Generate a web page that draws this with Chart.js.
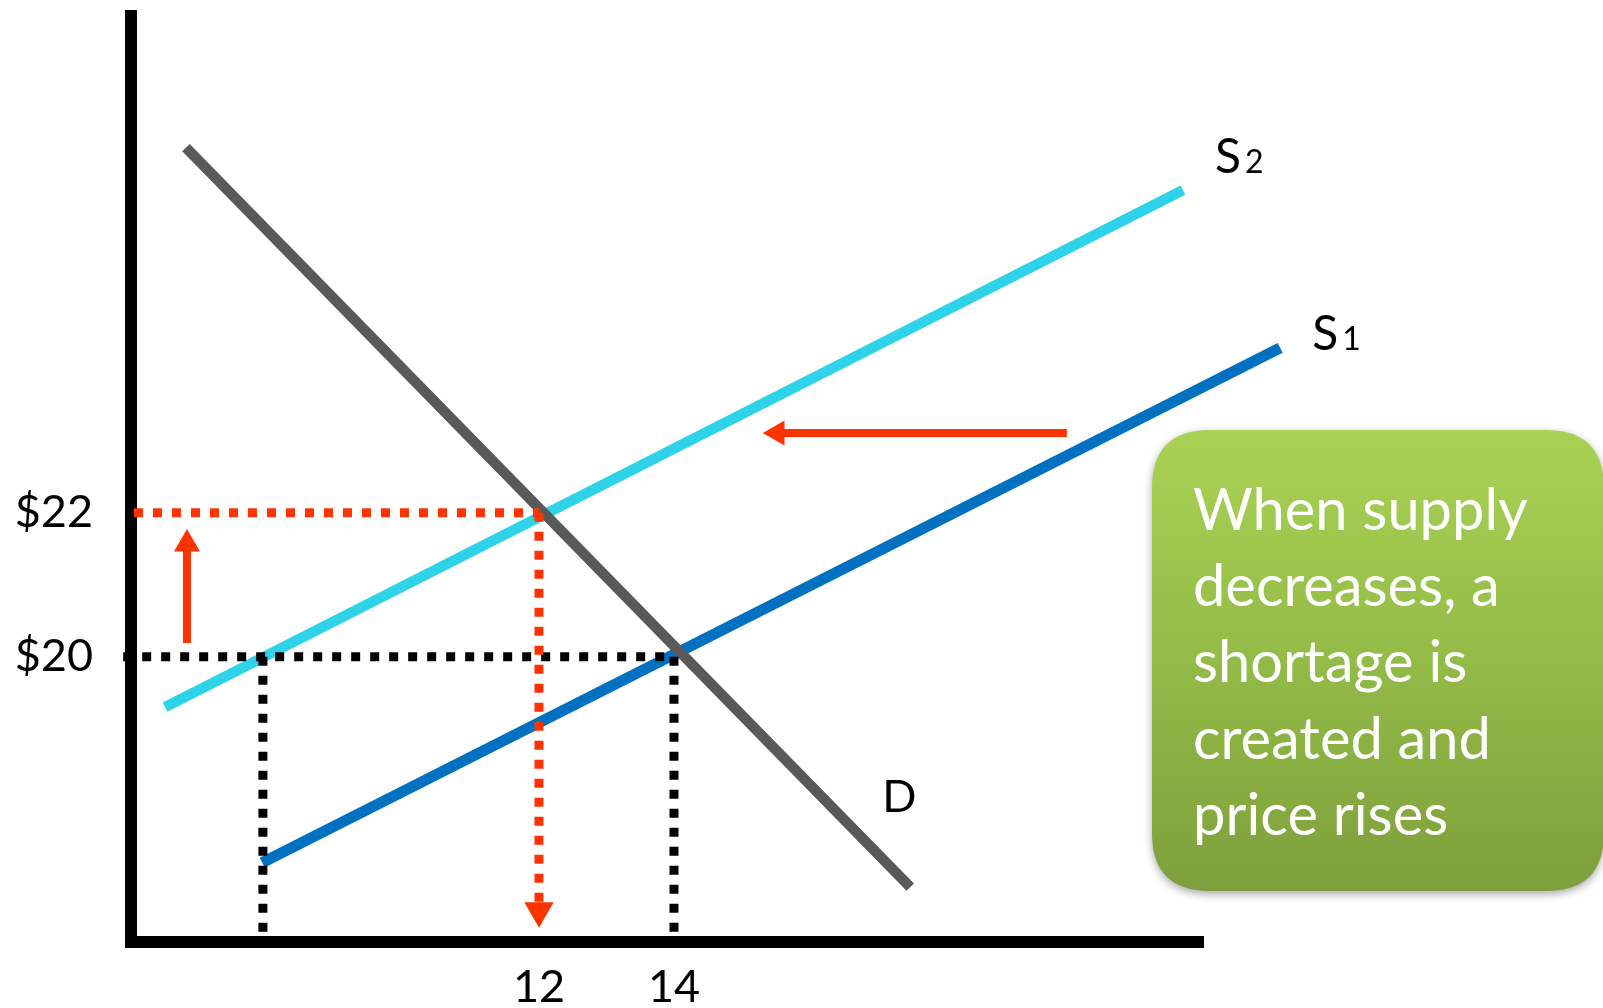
<!DOCTYPE html>
<html>
<head>
<meta charset="utf-8">
<title>Supply decrease</title>
<script src="https://cdn.jsdelivr.net/npm/chart.js@4/dist/chart.umd.min.js"></script>
<style>
  html, body { margin: 0; padding: 0; background: #fff; }
  canvas { display: block; }
</style>
</head>
<body>
<canvas id="chart" width="1603" height="1008"></canvas>
<script>
// ============================================
// DATA  (x = quantity, y = price)
// ============================================
const priceTicks = [20, 22];
const priceLabels = ['$20', '$22'];
const qtyTicks = [12, 14];
const qtyLabels = ['12', '14'];

const demand = [[6.77, 27.07], [17.5, 16.8]];
const supply2 = [[6.46, 19.3], [21.54, 26.48]];
const supply1 = [[7.9, 17.14], [22.98, 24.29]];

// dotted guides
const oldPriceGuide = [[5.84, 20], [14, 20]];
const newPriceGuide = [[6.0, 22], [12, 22]];
const lowQtyGuide = [[7.91, 20], [7.91, 16.04]];
const oldQtyGuide = [[14, 20], [14, 16.04]];
const newQtyGuide = [[12, 22], [12, 16.47]];

// solid arrows (last point = arrow head)
const priceArrow = [[6.785, 20.19], [6.785, 21.565]];
const shiftArrow = [[19.82, 23.107], [15.53, 23.107]];

const boxLines = ['When supply', 'decreases, a', 'shortage is', 'created and', 'price rises'];

const RED = '#FF3300';
const FONT = 'Lato, "Open Sans", sans-serif';

// ============================================
// HELPERS
// ============================================
const pts = arr => arr.map(p => ({ x: p[0], y: p[1] }));

function lineSet(data, color, width, extra) {
    return Object.assign({
        data: pts(data),
        showLine: true,
        borderColor: color,
        borderWidth: width,
        borderCapStyle: 'butt',
        pointRadius: 0,
        pointHoverRadius: 0,
        clip: false
    }, extra || {});
}

function arrowSet(data, color, width, headRadius, rotation, extra) {
    return lineSet(data, color, width, Object.assign({
        pointRadius: [0, headRadius],
        pointHoverRadius: [0, headRadius],
        pointStyle: 'triangle',
        pointRotation: rotation,
        pointBackgroundColor: color,
        pointBorderWidth: 0
    }, extra || {}));
}

function curveLabel(ctx, main, sub, px, py) {
    ctx.fillStyle = '#000';
    ctx.textBaseline = 'alphabetic';
    ctx.textAlign = 'left';
    ctx.font = '48px ' + FONT;
    ctx.fillText(main, px, py);
    if (sub) {
        const w = ctx.measureText(main).width;
        ctx.font = '32px ' + FONT;
        ctx.fillText(sub, px + w + 4, py);
    }
}

function roundRectPath(ctx, x, y, w, h, r) {
    ctx.beginPath();
    ctx.moveTo(x + r, y);
    ctx.lineTo(x + w - r, y);
    ctx.quadraticCurveTo(x + w, y, x + w, y + r);
    ctx.lineTo(x + w, y + h - r);
    ctx.quadraticCurveTo(x + w, y + h, x + w - r, y + h);
    ctx.lineTo(x + r, y + h);
    ctx.quadraticCurveTo(x, y + h, x, y + h - r);
    ctx.lineTo(x, y + r);
    ctx.quadraticCurveTo(x, y, x + r, y);
    ctx.closePath();
}

// keep the plot area exactly where the layout puts it
function noLabelPadding(s) {
    s.paddingTop = 0;
    s.paddingBottom = 0;
    s.paddingLeft = 0;
    s.paddingRight = 0;
}

// ============================================
// LABELS + NOTE BOX
// ============================================
const notes = {
    id: 'notes',
    afterDraw(chart) {
        const { ctx, scales: { x, y } } = chart;
        ctx.save();

        curveLabel(ctx, 'S', '2', x.getPixelForValue(supply2[1][0]) + 32, y.getPixelForValue(supply2[1][1]) - 17);
        curveLabel(ctx, 'S', '1', x.getPixelForValue(supply1[1][0]) + 32, y.getPixelForValue(supply1[1][1]) + 2);
        ctx.font = '45px ' + FONT;
        ctx.fillText('D', x.getPixelForValue(demand[1][0]) - 28, y.getPixelForValue(demand[1][1]) - 75);

        // green note box
        const bx = 1152, by = 430, bw = 452, bh = 461;
        ctx.save();
        ctx.shadowColor = 'rgba(0,0,0,0.35)';
        ctx.shadowBlur = 8;
        ctx.shadowOffsetY = 3;
        const grad = ctx.createLinearGradient(0, by, 0, by + bh);
        grad.addColorStop(0, '#A9D254');
        grad.addColorStop(0.5, '#93BB47');
        grad.addColorStop(1, '#7E9F3C');
        roundRectPath(ctx, bx, by, bw, bh, 58);
        ctx.fillStyle = grad;
        ctx.fill();
        ctx.restore();

        let size = 56;
        ctx.font = size + 'px ' + FONT;
        size = size * 335 / ctx.measureText(boxLines[0]).width;
        ctx.font = size.toFixed(1) + 'px ' + FONT;
        ctx.fillStyle = '#fff';
        ctx.textAlign = 'left';
        ctx.textBaseline = 'alphabetic';
        boxLines.forEach((line, i) => ctx.fillText(line, 1193, 530 + i * 76.2));

        ctx.restore();
    }
};

// ============================================
// CHART
// ============================================
new Chart(document.getElementById('chart'), {
    type: 'scatter',
    data: {
        datasets: [
            lineSet(oldPriceGuide, '#000', 9, { borderDash: [9, 10], order: 1 }),
            lineSet(lowQtyGuide, '#000', 9, { borderDash: [9, 10], order: 1 }),
            lineSet(oldQtyGuide, '#000', 9, { borderDash: [9, 10], order: 1 }),
            lineSet(newPriceGuide, RED, 9, { borderDash: [9, 10], order: 1 }),
            arrowSet(newQtyGuide, RED, 9, 17, 180, { borderDash: [9, 10], order: 0 }),
            arrowSet(priceArrow, RED, 8, 15, 0, { order: 0 }),
            arrowSet(shiftArrow, RED, 8, 14.5, 270, { order: 0 }),
            lineSet(supply1, '#0070C0', 11, { order: 3 }),
            lineSet(supply2, '#2ED3EA', 10.5, { order: 3 }),
            lineSet(demand, '#595959', 10.5, { order: 2 })
        ]
    },
    options: {
        responsive: false,
        animation: false,
        devicePixelRatio: 1,
        layout: { autoPadding: false, padding: { top: 16, right: 400, bottom: 0, left: 0 } },
        plugins: {
            legend: { display: false },
            tooltip: { enabled: false }
        },
        events: [],
        scales: {
            x: {
                type: 'linear',
                position: 'bottom',
                min: 5.956,
                max: 21.837,
                afterFit: s => { s.height = 66; noLabelPadding(s); },
                afterBuildTicks: s => { s.ticks = qtyTicks.map(v => ({ value: v })); },
                ticks: {
                    callback: v => qtyLabels[qtyTicks.indexOf(v)],
                    font: { family: FONT, size: 45 },
                    color: '#000',
                    padding: 18,
                    autoSkip: false,
                    maxRotation: 0
                },
                grid: { display: false, drawTicks: false, lineWidth: 1 },
                border: { display: true, color: '#000', width: 12 }
            },
            y: {
                type: 'linear',
                position: 'left',
                min: 16.0375,
                max: 28.899,
                afterFit: s => { s.width = 131; noLabelPadding(s); },
                afterBuildTicks: s => { s.ticks = priceTicks.map(v => ({ value: v })); },
                ticks: {
                    callback: v => priceLabels[priceTicks.indexOf(v)],
                    font: { family: FONT, size: 45 },
                    color: '#000',
                    padding: 38,
                    autoSkip: false
                },
                grid: { display: false, drawTicks: false, lineWidth: 12 },
                border: { display: true, color: '#000', width: 12 }
            }
        }
    },
    plugins: [notes]
});
</script>
</body>
</html>
